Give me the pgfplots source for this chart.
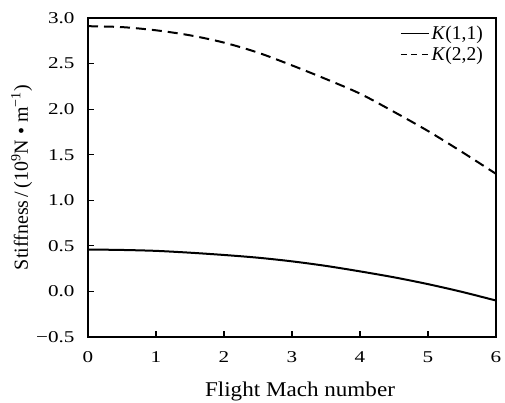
\documentclass[border=0pt]{standalone}
\usepackage{fontspec}
\setmainfont{Liberation Serif}
\newfontfamily\tickfont{Liberation Serif}[FakeStretch=1.28]
\newfontfamily\xlabfont{Liberation Serif}[FakeStretch=1.1]
\usepackage{pgfplots}
\pgfplotsset{compat=1.18}
\begin{document}
\begin{tikzpicture}
\begin{axis}[
  width=408pt, height=319pt, scale only axis,
  xmin=0, xmax=6, ymin=-0.5, ymax=3.0,
  xtick={0,1,2,3,4,5,6},
  ytick={-0.5,0,0.5,1,1.5,2,2.5,3},
  yticklabels={−0.5,0.0,0.5,1.0,1.5,2.0,2.5,3.0},
  xtick pos=bottom, ytick pos=left,
  tick align=inside,
  major tick length=6pt,
  tick style={line width=1.1pt, black},
  axis line style={line width=1.3pt},
  /pgf/number format/assume math mode=true,
  tick label style={font=\tickfont\fontsize{16.5}{19}\selectfont},
  xticklabel style={yshift=-11pt},
  yticklabel style={xshift=-10pt},
  xlabel={Flight Mach number},
  ylabel={Stiffness\,/\,(10\textsuperscript{9}N • m\textsuperscript{−1})},
  xlabel style={font=\xlabfont\fontsize{21}{24}\selectfont, at={(axis description cs:0.5,0)}, anchor=base, yshift=-59pt, xshift=8pt},
  ylabel style={font=\fontsize{20}{24}\selectfont, at={(axis description cs:0,0.5)}, anchor=base, yshift=60pt},
  legend style={at={(axis description cs:1,1)}, anchor=north east, draw=none, fill=none,
    font=\fontsize{19.5}{22}\selectfont, xshift=-9pt, yshift=-4pt,
    row sep=1.5pt, inner sep=2pt},
  legend cell align=left,
  legend image code/.code={\draw[#1] (-4pt,0pt) -- (24pt,0pt);},
  clip=false,
]
\coordinate (bl) at (rel axis cs:0,0);
\coordinate (tr) at (rel axis cs:1,1);
\addplot[black, line width=2pt, smooth, forget plot] coordinates {
(0,0.46) (0.5,0.455) (1,0.445) (1.5,0.425) (2,0.40) (2.5,0.37) (3,0.33)
(3.5,0.28) (4,0.22) (4.5,0.155) (5,0.08) (5.5,-0.005) (6,-0.10)};
\addplot[black, line width=2pt, smooth, dash pattern=on 10pt off 6pt, forget plot] coordinates {
(0,2.91) (0.5,2.90) (1,2.865) (1.5,2.81) (2,2.73) (2.5,2.62) (3,2.48)
(3.5,2.33) (4,2.17) (4.5,1.97) (5,1.76) (5.5,1.53) (6,1.29)};
\addlegendimage{black, line width=1.2pt}
\addlegendentry{\textit{K}(1,1)}
\addlegendimage{black, line width=1.2pt, dash pattern=on 6pt off 4.5pt}
\addlegendentry{\textit{K}(2,2)}
\end{axis}
\pgfresetboundingbox
\path[use as bounding box] ([shift={(-88pt,-66pt)}]bl) rectangle ([shift={(9pt,18pt)}]tr);
\end{tikzpicture}
\end{document}
